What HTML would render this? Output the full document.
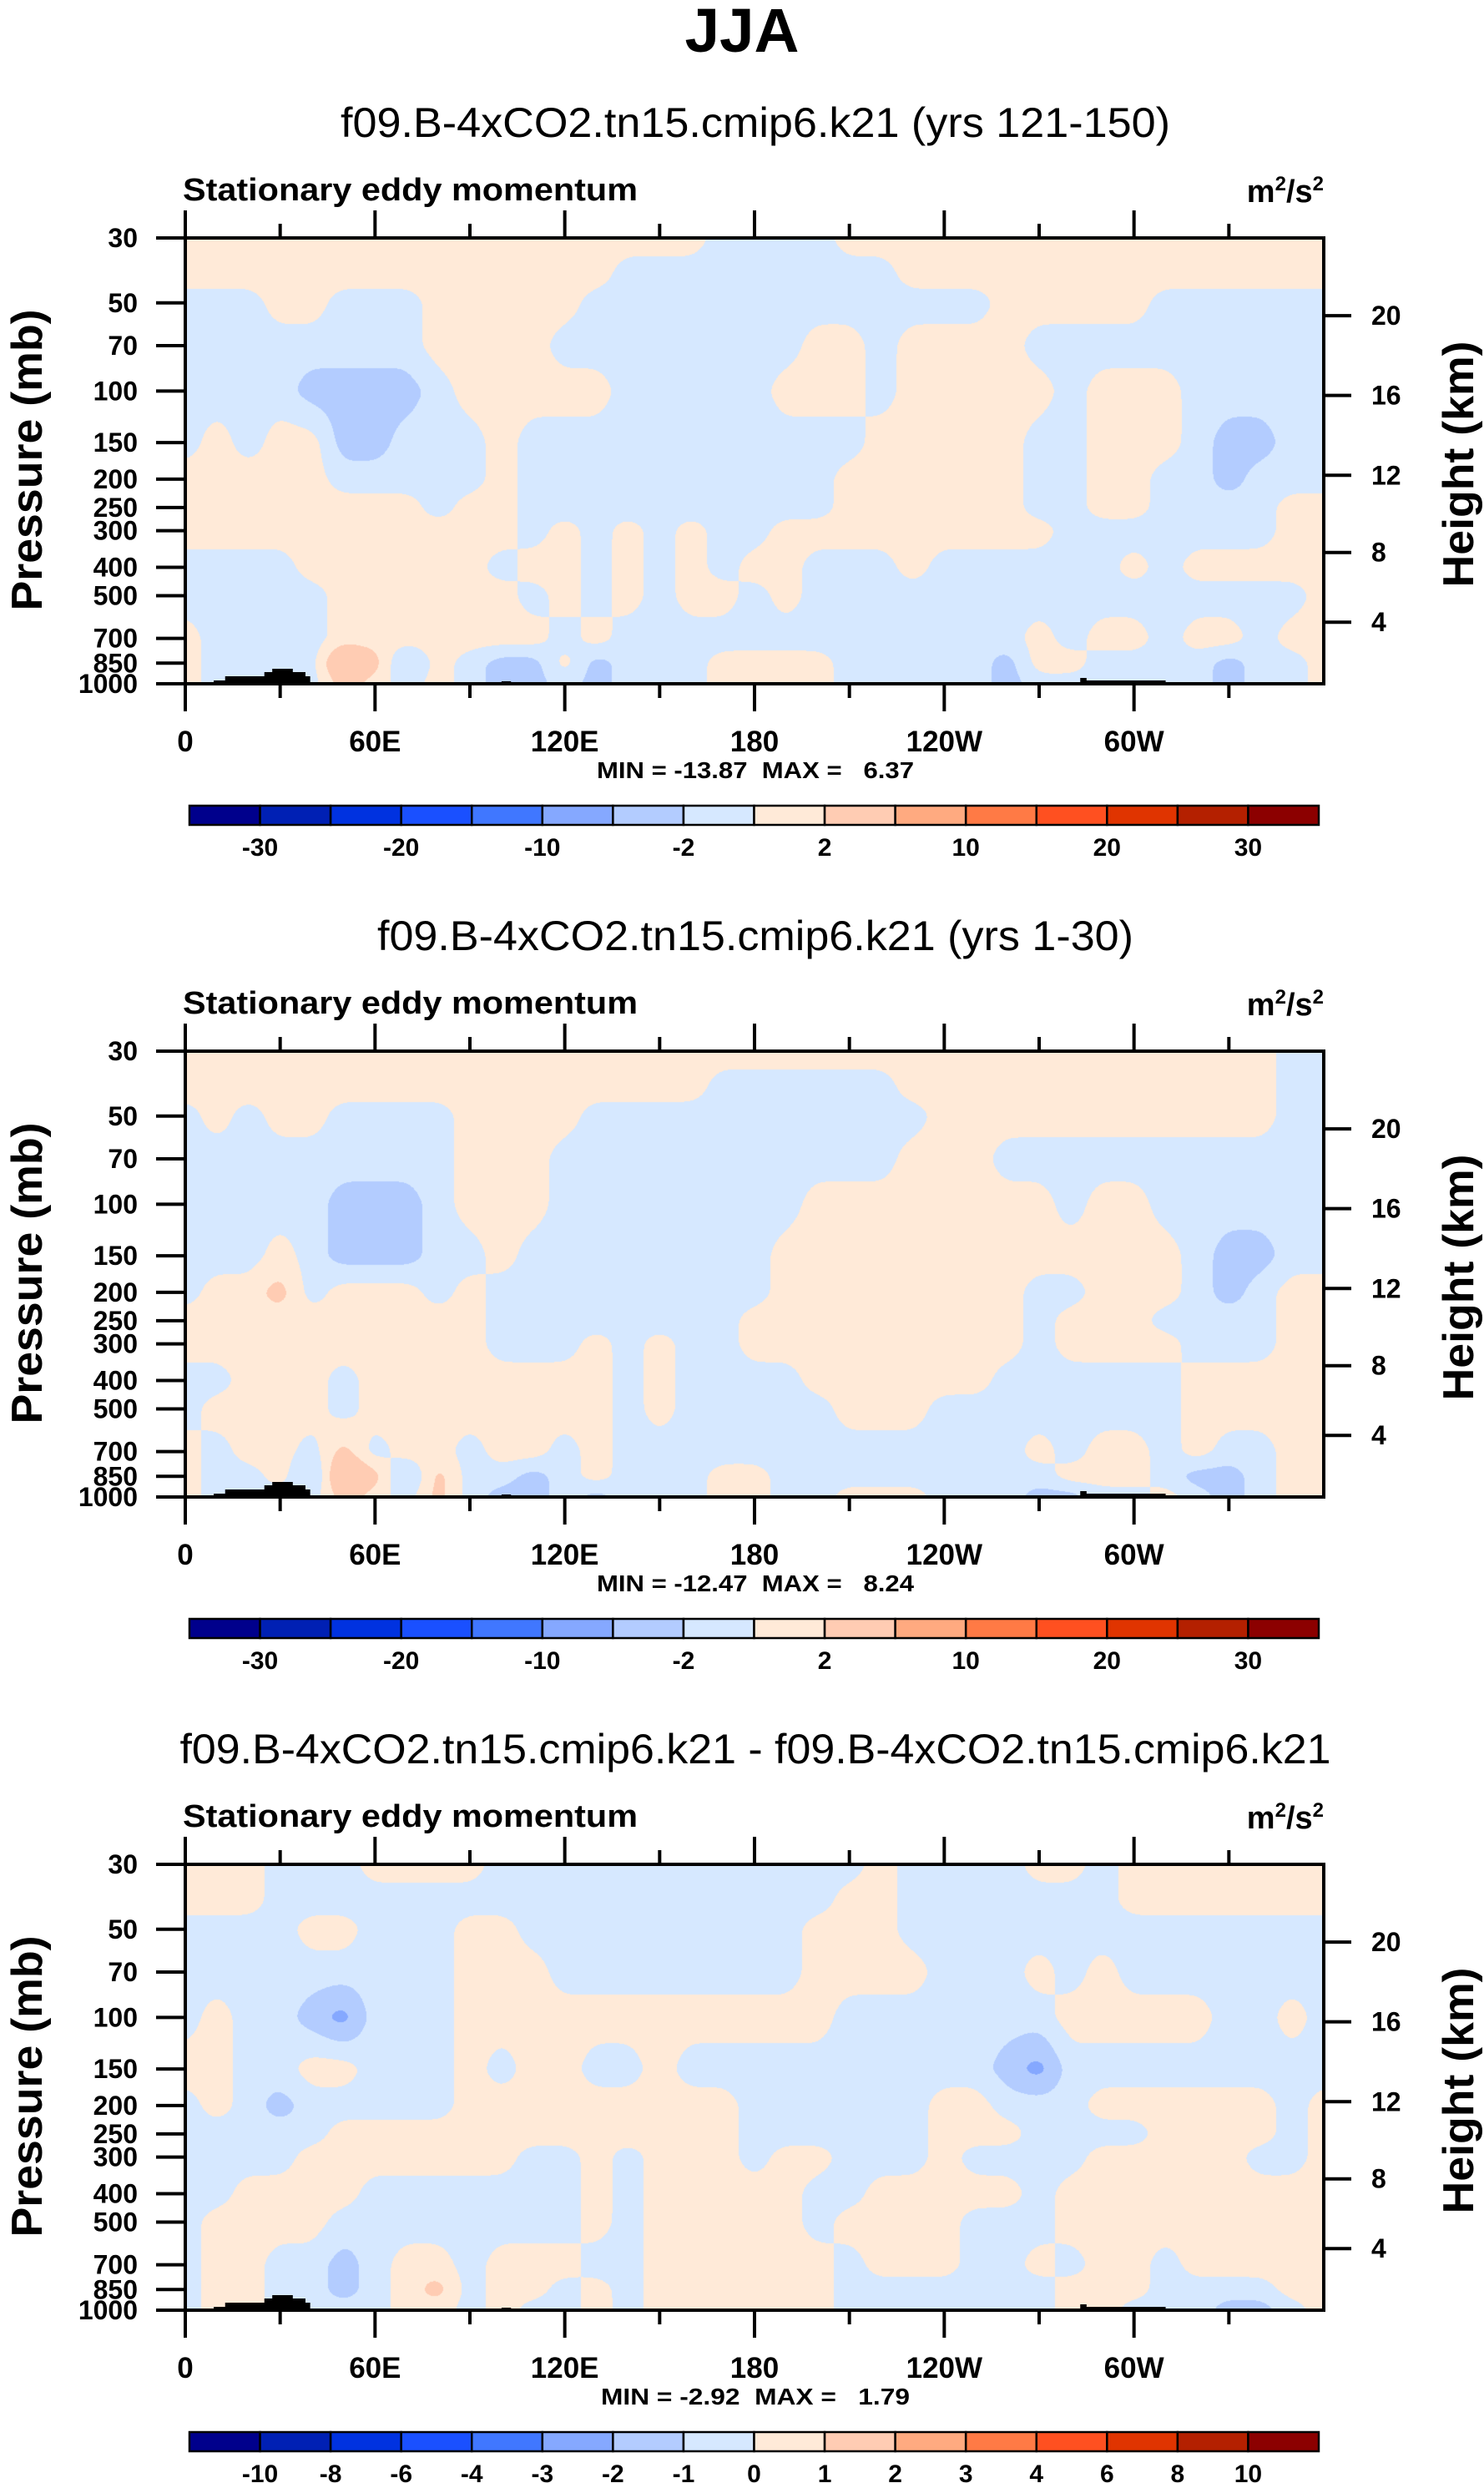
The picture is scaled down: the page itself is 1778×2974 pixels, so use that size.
<!DOCTYPE html>
<html><head><meta charset="utf-8">
<style>
html,body{margin:0;padding:0;background:#fff;}
#root{position:relative;width:1778px;height:2974px;overflow:hidden;background:#fff;}
canvas{position:absolute;}
svg{position:absolute;left:0;top:0;}
text{font-family:"Liberation Sans",Arial,sans-serif;fill:#000;}
</style></head>
<body>
<div id="root">
<canvas id="c0" width="1364" height="534" style="left:222px;top:285px"></canvas>
<canvas id="c1" width="1364" height="534" style="left:222px;top:1259px"></canvas>
<canvas id="c2" width="1364" height="534" style="left:222px;top:2233px"></canvas>
<svg id="ov" width="1778" height="2974" xmlns="http://www.w3.org/2000/svg">
<text x="889" y="62" text-anchor="middle" font-size="74" font-weight="bold" textLength="137" lengthAdjust="spacingAndGlyphs">JJA</text>
</svg>
</div>
<script>
// ---------- data ----------
const pressureLevels = [30,40,50,70,100,150,200,250,300,400,500,700,850,1000];
const longitudes = [0,10,20,30,40,50,60,70,80,90,100,110,120,130,140,150,160,170,180,190,200,210,220,230,240,250,260,270,280,290,300,310,320,330,340,350,360];
const pressureTicks = [30,50,70,100,150,200,250,300,400,500,700,850,1000];
const heightTicks = [20,16,12,8,4];
const heightTickPressures = [55.3,103.5,194.0,356.0,616.0];
const lonTickValues = [0,60,120,180,240,300];
const lonTickLabels = ["0","60E","120E","180","120W","60W"];
const levelsMain = [-30,-25,-20,-15,-10,-5,-2,0,2,5,10,15,20,25,30];
const levelsDiff = [-10,-8,-6,-4,-3,-2,-1,0,1,2,3,4,6,8,10];
const labelsMain = ["-30","-20","-10","-2","2","10","20","30"];
const labelsMainIdx = [0,2,4,6,8,10,12,14];
const fillColors = ["#00008c","#0020b4","#0032e0","#1a50ff","#4077ff","#85a8ff","#b3ccff","#d6e8ff","#ffead8","#ffccb3","#ffaa80","#ff7a45","#ff5020","#e03400","#b42000","#8c0000"];
const titles = ["f09.B-4xCO2.tn15.cmip6.k21 (yrs 121-150)","f09.B-4xCO2.tn15.cmip6.k21 (yrs 1-30)","f09.B-4xCO2.tn15.cmip6.k21 - f09.B-4xCO2.tn15.cmip6.k21"];
const minValues = [-13.87,-12.47,-2.92];
const maxValues = [6.37,8.24,1.79];

const panel1Values = [
[1,1,1,1,1,1,1,1,1,1,1,1,1,1,1,1,1,-1,-1,-1,-1,1,1,1,1,1,1,1,1,1,1,1,1,1,1,1,1],
[1,1,1,1,1,1,1,1,1,1,1,1,1,1,-1,-1,-1,-1,-1,-1,-1,-1,-1,1,1,1,1,1,1,1,1,1,1,1,1,1,1],
[-1,-1,-1,1,1,-1,-1,-1,1,1,1,1,1,-1,-1,-1,-1,-1,-1,-1,-1,-1,-1,-1,-1,-1,1,1,1,1,1,-1,-1,-1,-1,-1,-1],
[-1,-1,-1,-1,-1,-1,-1,-1,1,1,1,1,-1,-1,-1,-1,-1,-1,-1,-1,1,1,-1,1,1,1,1,-1,-1,-1,-1,-1,-1,-1,-1,-1,-1],
[-1,-1,-1,-1,-3,-3,-3,-3,-1,1,1,1,1,1,-1,-1,-1,-1,-1,1,1,1,-1,1,1,1,1,1,-1,1,1,1,-1,-1,-1,-1,-1],
[-1,1,-1,1,1,-3,-3,-1,-1,-1,1,-1,-1,-1,-1,-1,-1,-1,-1,-1,-1,-1,1,1,1,1,1,-1,-1,1,1,1,-1,-3,-3,-1,-1],
[1,1,1,1,1,-1,-1,-1,-1,-1,1,-1,-1,-1,-1,-1,-1,-1,-1,-1,-1,1,1,1,1,1,1,-1,-1,1,1,-1,-1,-3,-1,-1,-1],
[1,1,1,1,1,1,1,1,-1,1,1,-1,-1,-1,-1,-1,-1,-1,-1,-1,-1,1,1,1,1,1,1,-1,-1,1,1,-1,-1,-1,-1,1,1],
[1,1,1,1,1,1,1,1,1,1,1,-1,1,-1,1,-1,1,-1,-1,1,1,1,1,1,1,1,1,1,-1,-1,-1,-1,-1,-1,-1,1,1],
[-1,-1,-1,-1,1,1,1,1,1,1,-1,1,1,-1,1,-1,1,-1,1,1,-1,-1,-1,1,-1,-1,-1,-1,-1,-1,1,-1,1,1,1,1,1],
[-1,-1,-1,-1,-1,1,1,1,1,1,1,-1,1,-1,1,-1,1,1,-1,1,-1,-1,-1,-1,-1,-1,-1,-1,-1,-1,-1,-1,-1,-1,-1,-1,1],
[1,-1,-1,-1,-1,1,1,1,1,1,1,1,-1,1,-1,-1,-1,-1,-1,-1,-1,-1,-1,-1,-1,-1,-1,1,-1,1,1,-1,1,1,-1,1,1],
[1,-1,-1,-1,-1,6,3,-3,1,-1,-3,-3,1,-3,-1,-1,-1,1,1,1,1,-1,-1,-1,-1,-1,-3,1,1,-1,-1,-1,-1,-3,-1,-1,1],
[1,-1,-1,-1,-1,3,1,-1,1,-1,-3,-3,-1,-3,-1,-1,-1,1,1,1,1,-1,-1,-1,-1,-1,-3,-1,-1,-1,-1,-1,-1,-3,-1,-1,1]
];
const panel2Values = [
[1,1,1,1,1,1,1,1,1,1,1,1,1,1,1,1,1,1,1,1,1,1,1,1,1,1,1,1,1,1,1,1,1,1,1,-1,-1],
[1,1,1,1,1,1,1,1,1,1,1,1,1,1,1,1,1,-1,-1,-1,-1,-1,-1,1,1,1,1,1,1,1,1,1,1,1,1,-1,-1],
[-1,1,-1,1,1,-1,-1,-1,-1,1,1,1,1,-1,-1,-1,-1,-1,-1,-1,-1,-1,-1,-1,1,1,1,1,1,1,1,1,1,1,1,-1,-1],
[-1,-1,-1,-1,-1,-1,-1,-1,-1,1,1,1,-1,-1,-1,-1,-1,-1,-1,-1,-1,-1,-1,1,1,1,-1,-1,-1,-1,-1,-1,-1,-1,-1,-1,-1],
[-1,-1,-1,-1,-1,-3,-3,-3,-1,1,1,1,-1,-1,-1,-1,-1,-1,-1,-1,1,1,1,1,1,1,1,1,-1,1,1,-1,-1,-1,-1,-1,-1],
[-1,-1,-1,1,-1,-3,-3,-3,-1,-1,1,-1,-1,-1,-1,-1,-1,-1,-1,1,1,1,1,1,1,1,1,1,1,1,1,1,-1,-3,-3,-1,-1],
[-1,1,1,3,-1,1,1,1,-1,1,-1,-1,-1,-1,-1,-1,-1,-1,-1,1,1,1,1,1,1,1,1,-1,-1,1,1,1,-1,-3,-1,1,1],
[1,1,1,1,1,1,1,1,1,1,-1,-1,-1,-1,-1,-1,-1,-1,1,1,1,1,1,1,1,1,1,-1,1,1,1,-1,-1,-1,-1,1,1],
[1,1,1,1,1,1,1,1,1,1,-1,-1,-1,1,-1,1,-1,-1,1,1,1,1,1,1,1,1,1,-1,1,1,1,1,-1,-1,-1,1,1],
[-1,-1,1,1,1,-1,1,1,1,1,1,1,1,1,-1,1,-1,-1,-1,-1,1,1,1,1,1,1,-1,-1,-1,-1,-1,-1,1,1,1,1,1],
[-1,1,1,1,1,-1,1,1,1,1,1,1,1,1,-1,1,-1,-1,-1,-1,-1,1,1,1,-1,-1,-1,-1,-1,-1,-1,-1,1,1,1,1,1],
[1,-1,1,1,-1,3,-1,1,1,-1,1,1,-1,1,-1,-1,-1,-1,-1,-1,-1,-1,-1,-1,-1,-1,-1,1,-1,1,1,-1,1,-1,-1,1,1],
[1,-1,-1,1,-3,6,3,-3,3,-1,-1,-3,-1,1,-1,-1,-1,1,1,-1,-1,-1,-1,-1,-1,-1,-1,-1,1,1,1,-1,-3,-3,-1,1,1],
[1,-1,-1,-1,-1,3,1,-1,3,-1,-3,-3,-1,-3,-1,-1,-1,1,1,-1,-1,1,1,1,-1,-1,-1,-3,-3,-1,-1,1,-1,-3,-1,1,1]
];
const panel3Values = [
[0.5,0.5,0.5,-0.5,-0.5,-0.5,0.5,0.5,0.5,0.5,-0.5,-0.5,-0.5,-0.5,-0.5,-0.5,-0.5,-0.5,-0.5,-0.5,-0.5,-0.5,0.5,-0.5,-0.5,-0.5,-0.5,0.5,0.5,-0.5,0.5,0.5,0.5,0.5,0.5,0.5,0.5],
[0.5,0.5,0.5,-0.5,-0.5,-0.5,-0.5,-0.5,-0.5,-0.5,-0.5,-0.5,-0.5,-0.5,-0.5,-0.5,-0.5,-0.5,-0.5,-0.5,-0.5,0.5,0.5,-0.5,-0.5,-0.5,-0.5,-0.5,-0.5,-0.5,0.5,0.5,0.5,0.5,0.5,0.5,0.5],
[-0.5,-0.5,-0.5,-0.5,0.5,0.5,-0.5,-0.5,-0.5,0.5,0.5,-0.5,-0.5,-0.5,-0.5,-0.5,-0.5,-0.5,-0.5,-0.5,0.5,0.5,0.5,-0.5,-0.5,-0.5,-0.5,-0.5,-0.5,-0.5,-0.5,-0.5,-0.5,-0.5,-0.5,-0.5,-0.5],
[-0.5,-0.5,-0.5,-0.5,-0.5,-0.5,-0.5,-0.5,-0.5,0.5,0.5,0.5,-0.5,-0.5,-0.5,-0.5,-0.5,-0.5,-0.5,-0.5,0.5,0.5,0.5,0.5,-0.5,-0.5,-0.5,0.5,-0.5,0.5,-0.5,-0.5,-0.5,-0.5,-0.5,-0.5,-0.5],
[-0.5,0.5,-0.5,-0.5,-1.5,-2.5,-0.5,-0.5,-0.5,0.5,0.5,0.5,0.5,0.5,0.5,0.5,0.5,0.5,0.5,0.5,0.5,-0.5,-0.5,-0.5,-0.5,-0.5,-0.5,-0.5,0.5,0.5,0.5,0.5,0.5,-0.5,-0.5,0.5,-0.5],
[0.5,0.5,-0.5,-0.5,0.5,0.5,-0.5,-0.5,-0.5,0.5,-0.5,0.5,0.5,-0.5,-0.5,0.5,-0.5,-0.5,-0.5,-0.5,-0.5,-0.5,-0.5,-0.5,-0.5,-0.5,-1.5,-2.5,-0.5,-0.5,-0.5,-0.5,-0.5,-0.5,-0.5,-0.5,-0.5],
[-0.5,0.5,-0.5,-1.5,-0.5,-0.5,-0.5,-0.5,-0.5,0.5,0.5,0.5,0.5,0.5,0.5,0.5,0.5,0.5,-0.5,-0.5,-0.5,-0.5,-0.5,-0.5,0.5,0.5,-0.5,-0.5,-0.5,0.5,0.5,0.5,0.5,0.5,0.5,-0.5,0.5],
[-0.5,-0.5,-0.5,-0.5,-0.5,0.5,0.5,0.5,0.5,0.5,0.5,0.5,0.5,0.5,0.5,0.5,0.5,0.5,-0.5,-0.5,-0.5,-0.5,-0.5,-0.5,0.5,0.5,0.5,-0.5,-0.5,-0.5,-0.5,0.5,0.5,0.5,0.5,-0.5,0.5],
[-0.5,-0.5,-0.5,-0.5,0.5,0.5,0.5,0.5,0.5,0.5,0.5,-0.5,-0.5,0.5,-0.5,0.5,0.5,0.5,-0.5,0.5,0.5,-0.5,-0.5,-0.5,0.5,-0.5,-0.5,-0.5,-0.5,0.5,0.5,0.5,0.5,0.5,-0.5,-0.5,0.5],
[-0.5,-0.5,0.5,0.5,0.5,0.5,-0.5,-0.5,-0.5,-0.5,-0.5,-0.5,-0.5,0.5,-0.5,0.5,0.5,0.5,0.5,0.5,-0.5,-0.5,0.5,0.5,0.5,0.5,0.5,-0.5,0.5,0.5,0.5,0.5,0.5,0.5,0.5,0.5,0.5],
[-0.5,0.5,0.5,0.5,0.5,-0.5,-0.5,-0.5,-0.5,-0.5,-0.5,-0.5,-0.5,0.5,-0.5,0.5,0.5,0.5,0.5,0.5,-0.5,0.5,0.5,0.5,0.5,-0.5,-0.5,-0.5,0.5,0.5,0.5,0.5,0.5,0.5,0.5,0.5,0.5],
[-0.5,0.5,0.5,-0.5,-0.5,-1.5,-0.5,0.5,0.5,-0.5,0.5,0.5,0.5,-0.5,-0.5,0.5,0.5,0.5,0.5,0.5,0.5,-0.5,0.5,0.5,0.5,-0.5,-0.5,0.5,-0.5,0.5,0.5,-0.5,0.5,0.5,0.5,0.5,0.5],
[-0.5,0.5,0.5,-0.5,-0.5,-1.5,-0.5,0.5,1.5,-0.5,0.5,0.5,-0.5,0.5,-0.5,0.5,0.5,0.5,0.5,0.5,0.5,-0.5,-0.5,-0.5,-0.5,-0.5,-0.5,-0.5,0.5,0.5,0.5,-0.5,-0.5,-0.5,-0.5,0.5,0.5],
[-0.5,0.5,0.5,-0.5,-0.5,-0.5,-0.5,0.5,0.5,-0.5,0.5,-0.5,-0.5,0.5,-0.5,0.5,0.5,0.5,0.5,0.5,0.5,-0.5,-0.5,-0.5,-0.5,-0.5,-0.5,-0.5,0.5,0.5,-0.5,-0.5,-0.5,-1.5,-1.5,-0.5,0.5]
];

// ---------- layout ----------
const PL=222, PW=1364, PH=534;
const panelTops=[285,1259,2233];
const lnTop=Math.log(30), lnBot=Math.log(1000);
function yOfP(p){return (Math.log(p)-lnTop)/(lnBot-lnTop)*PH;}
function xOfLon(l){return l/360*PW;}
const NS="http://www.w3.org/2000/svg";
const ov=document.getElementById('ov');
function mk(tag,attrs,parent,txt){
  const e=document.createElementNS(NS,tag);
  for(const k in attrs)e.setAttribute(k,attrs[k]);
  if(txt!==undefined)e.textContent=txt;
  (parent||ov).appendChild(e);return e;
}
function hex(c){return [parseInt(c.substr(1,2),16),parseInt(c.substr(3,2),16),parseInt(c.substr(5,2),16)];}
const rgb=fillColors.map(hex);

function blurH(src,dst,w,h,r){
  for(let y=0;y<h;y++){
    const row=y*w;let s=0;
    for(let x=-r;x<=r;x++)s+=src[row+Math.min(w-1,Math.max(0,x))];
    for(let x=0;x<w;x++){
      dst[row+x]=s/(2*r+1);
      s+=src[row+Math.min(w-1,x+r+1)]-src[row+Math.max(0,x-r)];
    }
  }
}
function blurV(src,dst,w,h,r){
  for(let x=0;x<w;x++){
    let s=0;
    for(let y=-r;y<=r;y++)s+=src[Math.min(h-1,Math.max(0,y))*w+x];
    for(let y=0;y<h;y++){
      dst[y*w+x]=s/(2*r+1);
      s+=src[Math.min(h-1,y+r+1)*w+x]-src[Math.max(0,y-r)*w+x];
    }
  }
}
function drawField(canvas,grid,levels){
  const ctx=canvas.getContext('2d');
  const img=ctx.createImageData(PW,PH);const d=img.data;
  const lnL=pressureLevels.map(Math.log);
  let F=new Float32Array(PW*PH), G=new Float32Array(PW*PH);
  for(let py=0;py<PH;py++){
    const lp=lnTop+(py+0.5)/PH*(lnBot-lnTop);
    let k=0;while(k<lnL.length-2&&lp>lnL[k+1])k++;
    const t=Math.min(1,Math.max(0,(lp-lnL[k])/(lnL[k+1]-lnL[k])));
    const r0=grid[k],r1=grid[k+1];
    for(let px=0;px<PW;px++){
      const lon=(px+0.5)/PW*360;
      let i=Math.min(longitudes.length-2,Math.floor(lon/10));
      const s=(lon-longitudes[i])/10;
      F[py*PW+px]=(r0[i]*(1-s)+r0[i+1]*s)*(1-t)+(r1[i]*(1-s)+r1[i+1]*s)*t;
    }
  }
  for(let pass=0;pass<2;pass++){
    blurH(F,G,PW,PH,9);
    blurV(G,F,PW,PH,5);
  }
  for(let q=0;q<PW*PH;q++){
    const v=F[q];
    let ci=0;while(ci<levels.length&&v>=levels[ci])ci++;
    const c=rgb[ci];const o=q*4;
    d[o]=c[0];d[o+1]=c[1];d[o+2]=c[2];d[o+3]=255;
  }
  ctx.putImageData(img,0,0);
}
const grids=[panel1Values,panel2Values,panel3Values];
const levelSets=[levelsMain,levelsMain,levelsDiff];
const titleLens=[994,906,1379];
for(let n=0;n<3;n++){
  drawField(document.getElementById('c'+n),grids[n],levelSets[n]);
  const T=panelTops[n];
  const g=mk('g',{});
  
  
  const st=mk('text',{x:905,y:T-121,'text-anchor':'middle','font-size':50,textLength:titleLens[n],lengthAdjust:'spacingAndGlyphs'},g,titles[n]);
  
  
  const lt=mk('text',{x:219,y:T-45,'font-size':38,'font-weight':'bold',textLength:545,lengthAdjust:'spacingAndGlyphs'},g,'Stationary eddy momentum');
  
  
  const ut=mk('text',{x:1586,y:T-43,'text-anchor':'end','font-size':38,'font-weight':'bold'},g);
  
  
  mk('tspan',{},ut,'m');mk('tspan',{dy:-14,'font-size':24},ut,'2');mk('tspan',{dy:14},ut,'/s');mk('tspan',{dy:-14,'font-size':24},ut,'2');
  const topo=[[9,0],[9,4],[12.6,4],[12.6,9],[25,9],[25,14],[27.5,14],[27.5,18],[34,18],[34,14],[38,14],[38,9],[39.5,9],[39.5,0],
              [100,0],[100,3],[103,3],[103,0],[283,0],[283,7],[285,7],[285,4],[310,4],[310,0]];
  const tp=mk('polygon',{points:topo.map(q=>(PL+xOfLon(q[0]))+','+(T+PH-q[1])).join(' '),fill:'#000'},g);
  
  
  const fr=mk('rect',{x:PL,y:T,width:PW,height:PH,fill:'none',stroke:'#000','stroke-width':4},g);
  
  
  for(let l=0;l<=330;l+=30){
    const x=PL+xOfLon(l);const major=(l%60===0);const len=major?33:17;
    const t1=mk('line',{x1:x,y1:T,x2:x,y2:T-len,stroke:'#000','stroke-width':4},g);
    
    
    const t2=mk('line',{x1:x,y1:T+PH,x2:x,y2:T+PH+len,stroke:'#000','stroke-width':4},g);
    
    
  }
  lonTickValues.forEach((l,i)=>{
    const tl=mk('text',{x:PL+xOfLon(l),y:T+PH+81,'text-anchor':'middle','font-size':35,'font-weight':'bold'},g,lonTickLabels[i]);
    
    
  });
  pressureTicks.forEach(p=>{
    const y=T+yOfP(p);
    const tk=mk('line',{x1:187,y1:y,x2:PL,y2:y,stroke:'#000','stroke-width':4},g);
    
    
    const tl=mk('text',{x:165,y:y+11,'text-anchor':'end','font-size':32,'font-weight':'bold'},g,String(p));
    
    
  });
  heightTicks.forEach((h,i)=>{
    const y=T+yOfP(heightTickPressures[i]);
    const tk=mk('line',{x1:1586,y1:y,x2:1619,y2:y,stroke:'#000','stroke-width':4},g);
    
    
    const tl=mk('text',{x:1643,y:y+11,'font-size':32,'font-weight':'bold'},g,String(h));
    
    
  });
  const ya=mk('text',{x:0,y:0,'text-anchor':'middle','font-size':52,'font-weight':'bold',transform:'translate(50,'+(T+266)+') rotate(-90)',textLength:361,lengthAdjust:'spacingAndGlyphs'},g,'Pressure (mb)');
  
  
  const ya2=mk('text',{x:0,y:0,'text-anchor':'middle','font-size':52,'font-weight':'bold',transform:'translate(1765,'+(T+271)+') rotate(-90)',textLength:295,lengthAdjust:'spacingAndGlyphs'},g,'Height (km)');
  
  
  const mm=mk('text',{x:905,y:T+647,'text-anchor':'middle','font-size':28,'font-weight':'bold',style:'white-space:pre',textLength:(n===2?370:380),lengthAdjust:'spacingAndGlyphs'},g,
    'MIN = '+minValues[n].toFixed(2)+'  MAX =   '+maxValues[n].toFixed(2));
  
  
  const cbL=227,cbR=1580,cbT=T+680,cbH=23,bw=(cbR-cbL)/16;
  const cb=mk('g',{},g);
  
  
  fillColors.forEach((c,i)=>{
    const r=mk('rect',{x:cbL+i*bw,y:cbT,width:bw,height:cbH,fill:c,stroke:'#000','stroke-width':2.5},cb);
    
    
  });
  const lv=levelSets[n];
  const idxs = n===2 ? lv.map((_,i)=>i) : labelsMainIdx;
  idxs.forEach((li,j)=>{
    const lab = n===2 ? String(lv[li]) : labelsMain[j];
    const t=mk('text',{x:cbL+(li+1)*bw,y:cbT+60,'text-anchor':'middle','font-size':30,'font-weight':'bold'},cb,lab);
    
    
  });
}
</script>
</body></html>
